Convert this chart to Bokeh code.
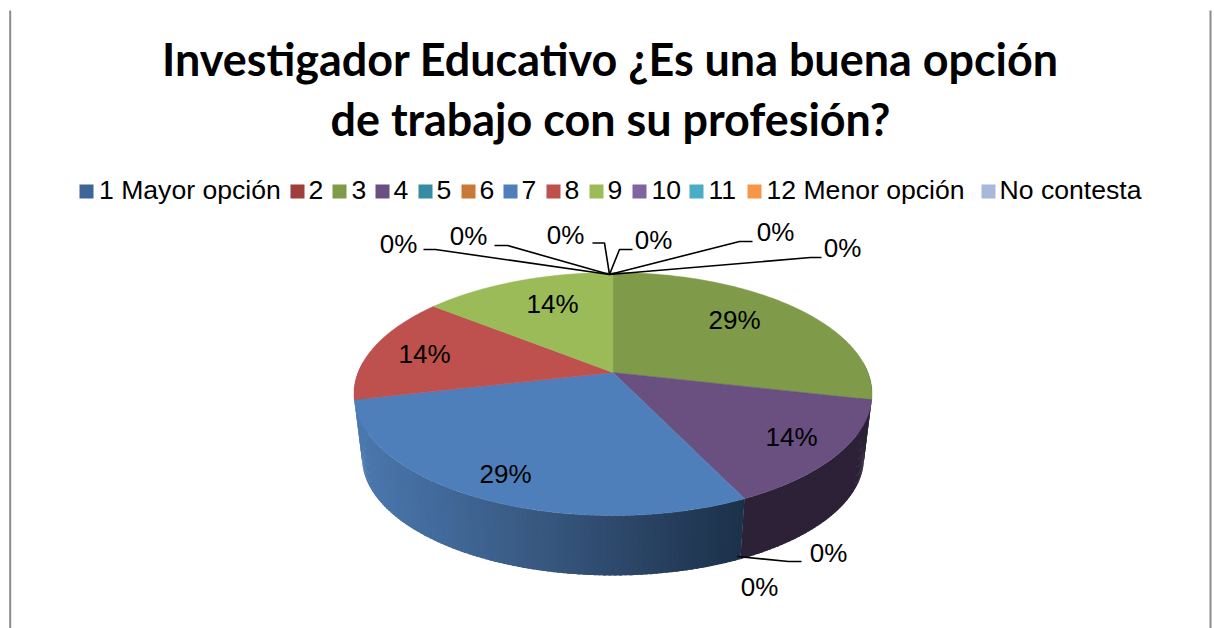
import numpy as np
from bokeh.plotting import figure
from bokeh.models import Range1d
from bokeh.core.properties import value
from bokeh.embed import file_html
from bokeh.resources import INLINE

title_lines = ["Investigador Educativo ¿Es una buena opción", "de trabajo con su profesión?"]
categories = ["1 Mayor opción", "2", "3", "4", "5", "6", "7", "8", "9", "10", "11", "12 Menor opción", "No contesta"]
values = [0, 0, 2, 1, 0, 0, 2, 1, 1, 0, 0, 0, 0]
top_colors = ["#3C6698", "#9E3F3C", "#7F9A48", "#6A4F81", "#358CA3", "#C97935", "#4E7FBB",
              "#BE504D", "#9BBB59", "#8064A2", "#4BACC6", "#F79646", "#A7B8D8"]

# pixel layout (page coordinates)
W, H = 1214, 628
legend_sq_x = [79, 290, 332, 375, 418, 461, 503, 546, 589, 632, 689, 747, 981]
legend_tx_x = [98.5, 308, 351, 393, 436, 479, 521, 564, 607, 651, 708, 766, 999]
label_pos = {2: (734, 319), 3: (791, 436), 6: (505, 473), 7: (424, 353), 8: (552, 303)}
zero_labels = [(398, 243), (468, 235), (565, 234), (653, 239), (775, 231), (842, 247), (828, 552), (759, 586)]
leaders = [
    [(423, 249), (435, 249), (609, 274)],
    [(494, 245), (507, 245), (609, 274)],
    [(592, 242.5), (604, 242.5), (609, 274)],
    [(632, 249), (619, 249), (609, 274)],
    [(752, 241), (739, 241), (609, 274)],
    [(821, 257), (810, 257), (609, 274)],
    [(801, 561), (788, 561), (737, 556)],
]

# perspective projection of the pie disc
CX, CY, A, B, K = 612.5, 372.0, 254.9, 117.7, 0.177
DEPTH, SHRINK = 64.4, 0.969


def project(theta, lower=False):
    X, Y = np.sin(theta), np.cos(theta)
    w = 1 + K * Y
    s, dy = (SHRINK, DEPTH) if lower else (1.0, 0.0)
    return CX + s * A * X / w, CY + dy - s * B * Y / w


p = figure(width=W, height=H, output_backend="svg", toolbar_location=None,
           x_range=Range1d(0, W), y_range=Range1d(H, 0),
           min_border=0, outline_line_color=None)
p.axis.visible = False
p.grid.visible = False
p.background_fill_color = "white"
p.border_fill_color = "white"

# frame lines
p.line([9.7, 9.7], [10, 628], line_color="#8C8C8C", line_width=2)
p.line([1210, 1210], [10, 628], line_color="#8C8C8C", line_width=2)

total = sum(values)
edges = 2 * np.pi * np.concatenate([[0], np.cumsum(values)]) / total

# side wall
grad_x = [354, 540, 745]
grad_c = [(76, 122, 178), (56, 88, 128), (28, 48, 72)]
dark_purple = "#2C2137"
xs, ys, cs = [], [], []
step = np.radians(1.0)
for i, v in enumerate(values):
    if v == 0:
        continue
    a0, a1 = edges[i], edges[i + 1]
    lo, hi = max(a0, np.radians(85)), min(a1, np.radians(275))
    if hi <= lo:
        continue
    th = np.arange(lo, hi, step)
    for t in th:
        t2 = min(t + step * 1.6, hi)
        tt = np.linspace(t, t2, 4)
        ux, uy = project(tt)
        lx, ly = project(tt, True)
        xs.append(list(ux) + list(lx[::-1]))
        ys.append(list(uy) + list(ly[::-1]))
        if i == 3:
            cs.append(dark_purple)
        else:
            mx = float(np.mean(lx))
            rgb = [int(np.interp(mx, grad_x, [c[k] for c in grad_c])) for k in range(3)]
            cs.append("#%02X%02X%02X" % tuple(rgb))
p.patches(xs, ys, fill_color=cs, line_color=None)

# top face
for i, v in enumerate(values):
    if v == 0:
        continue
    tt = np.linspace(edges[i], edges[i + 1], 160)
    ex, ey = project(tt)
    p.patch([CX] + list(ex), [CY] + list(ey), fill_color=top_colors[i],
            line_color=top_colors[i], line_width=0.5)

# leader lines
for pts in leaders:
    p.line([q[0] for q in pts], [q[1] for q in pts], line_color="black", line_width=1.6)

# value labels
LAB = value("Liberation Sans")
pct = {i: f"{round(100 * v / total)}%" for i, v in enumerate(values)}
p.text([q[0] for q in label_pos.values()], [q[1] for q in label_pos.values()],
       text=[pct[i] for i in label_pos], text_font=LAB, text_font_size="26px",
       text_align="center", text_baseline="middle", text_color="black")
zero_txt = [pct[i] for i, v in enumerate(values) if v == 0][:len(zero_labels)]
p.text([q[0] for q in zero_labels], [q[1] for q in zero_labels], text=zero_txt,
       text_font=LAB, text_font_size="26px", text_align="center", text_baseline="middle",
       text_color="black")

# legend
sq_y = 191
p.quad(left=legend_sq_x, right=[x + 14 for x in legend_sq_x], top=[sq_y - 7] * 13, bottom=[sq_y + 7] * 13,
       fill_color=top_colors, line_color=None)
p.text(legend_tx_x, [189] * 13, text=categories, text_font=LAB, text_font_size="26.6px",
       text_align="left", text_baseline="middle", text_color="black")

# title
p.text([610, 610], [58.5, 118.5], text=title_lines, text_font=value("Lato"), text_font_style="bold",
       text_font_size="44.9px", text_align="center", text_baseline="middle", text_color="black")

open("out.html", "w").write(file_html(p, INLINE))
